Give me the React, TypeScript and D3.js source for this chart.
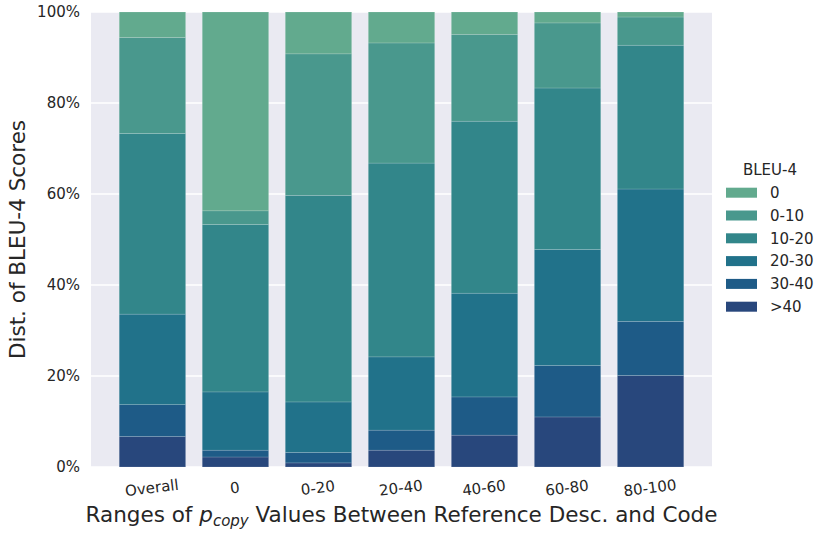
import { useEffect, useRef } from 'react';
import * as d3 from 'd3';

// categories (x axis) and BLEU-4 buckets (stack order, bottom -> top)
const categories = ['Overall', '0', '0-20', '20-40', '40-60', '60-80', '80-100'];
const buckets = ['>40', '30-40', '20-30', '10-20', '0-10', '0'];

// share (%) of each bucket per category
const gt40 = [6.7, 2.2, 0.9, 3.7, 7.0, 11.0, 20.1];
const b30_40 = [7.0, 1.5, 2.3, 4.4, 8.4, 11.3, 11.9];
const b20_30 = [19.9, 12.8, 11.1, 16.1, 22.8, 25.5, 29.1];
const b10_20 = [39.7, 36.8, 45.4, 42.6, 37.8, 35.5, 31.6];
const b0_10 = [21.1, 3.0, 31.1, 26.4, 19.1, 14.3, 6.2];
const b0 = [5.6, 43.7, 9.2, 6.8, 4.9, 2.4, 1.1];

const yTicks = [0, 20, 40, 60, 80, 100];

const colors: Record<string, string> = {
  '0': '#62aa8e',
  '0-10': '#49988d',
  '10-20': '#32868a',
  '20-30': '#21728a',
  '30-40': '#1e5b87',
  '>40': '#28477c',
};

const legendOrder = ['0', '0-10', '10-20', '20-30', '30-40', '>40'];

export default function App() {
  const svgRef = useRef<SVGSVGElement | null>(null);

  const W = 830;
  const H = 536;
  const margin = { top: 12, right: 118, bottom: 69, left: 91 };
  const width = W - margin.left - margin.right;
  const height = H - margin.top - margin.bottom;

  useEffect(() => {
    const svg = d3.select(svgRef.current);
    svg.selectAll('*').remove();

    const font = 'DejaVu Sans, sans-serif';
    const textColor = '#262626';

    const rows = categories.map((c, i) => {
      const r: Record<string, number | string> = { cat: c, idx: i };
      const vals = [gt40[i], b30_40[i], b20_30[i], b10_20[i], b0_10[i], b0[i]];
      const total = d3.sum(vals);
      buckets.forEach((b, j) => (r[b] = (vals[j] / total) * 100));
      return r;
    });

    const stack = d3.stack<Record<string, number | string>>().keys(buckets)(rows);

    const x = d3.scaleLinear().domain([-0.74, 6.74]).range([0, width]);
    const barW = x(0.8) - x(0);
    const y = d3.scaleLinear().domain([0, 100]).range([height, 0]);

    const g = svg
      .append('g')
      .attr('transform', `translate(${margin.left},${margin.top})`);

    // background
    g.append('rect')
      .attr('width', width)
      .attr('height', height)
      .attr('fill', '#eaeaf2');

    // gridlines
    g.selectAll('.grid')
      .data(yTicks)
      .enter()
      .append('line')
      .attr('x1', 0)
      .attr('x2', width)
      .attr('y1', (d) => y(d))
      .attr('y2', (d) => y(d))
      .attr('stroke', '#fff')
      .attr('stroke-width', 1.3);

    // stacked bars
    stack.forEach((layer) => {
      g.selectAll(`.bar-${layer.index}`)
        .data(layer)
        .enter()
        .append('rect')
        .attr('x', (_, i) => x(i) - barW / 2)
        .attr('width', barW)
        .attr('y', (d) => y(d[1]))
        .attr('height', (d) => y(d[0]) - y(d[1]))
        .attr('fill', colors[layer.key])
        .attr('stroke', 'rgba(255,255,255,0.25)')
        .attr('stroke-width', 0.6);
    });

    // y tick labels
    g.selectAll('.ytick')
      .data(yTicks)
      .enter()
      .append('text')
      .attr('x', -11)
      .attr('y', (d) => y(d))
      .attr('dy', '0.35em')
      .attr('text-anchor', 'end')
      .attr('font-family', font)
      .attr('font-size', 15)
      .attr('fill', textColor)
      .text((d) => `${d}%`);

    // x tick labels (slightly rotated)
    g.selectAll('.xtick')
      .data(categories)
      .enter()
      .append('text')
      .attr('transform', (_, i) => `translate(${x(i)},${height + 26}) rotate(-7)`)
      .attr('text-anchor', 'middle')
      .attr('font-family', font)
      .attr('font-size', 15)
      .attr('fill', textColor)
      .text((d) => d);

    // x axis title
    const xt = g
      .append('text')
      .attr('x', width / 2)
      .attr('y', height + 55)
      .attr('text-anchor', 'middle')
      .attr('font-family', font)
      .attr('font-size', 21.5)
      .attr('fill', textColor);
    xt.append('tspan').text('Ranges of ');
    xt.append('tspan').attr('font-style', 'italic').text('p');
    xt.append('tspan')
      .attr('font-style', 'italic')
      .attr('font-size', 15)
      .attr('dy', 4)
      .text('copy');
    xt.append('tspan').attr('dy', -4).text(' Values Between Reference Desc. and Code');

    // y axis title
    g.append('text')
      .attr('transform', `translate(${-66},${height / 2}) rotate(-90)`)
      .attr('text-anchor', 'middle')
      .attr('font-family', font)
      .attr('font-size', 21.5)
      .attr('fill', textColor)
      .text('Dist. of BLEU-4 Scores');

    // legend
    const lg = svg.append('g').attr('transform', `translate(726,170)`);
    lg.append('text')
      .attr('x', 44)
      .attr('y', 0)
      .attr('dy', '0.35em')
      .attr('text-anchor', 'middle')
      .attr('font-family', font)
      .attr('font-size', 15)
      .attr('fill', textColor)
      .text('BLEU-4');

    const items = lg
      .selectAll('.item')
      .data(legendOrder)
      .enter()
      .append('g')
      .attr('transform', (_, i) => `translate(0,${22.7 + i * 22.8})`);

    items
      .append('rect')
      .attr('x', 0)
      .attr('y', -5)
      .attr('width', 31)
      .attr('height', 10)
      .attr('fill', (d) => colors[d]);

    items
      .append('text')
      .attr('x', 44)
      .attr('y', 0)
      .attr('dy', '0.35em')
      .attr('font-family', font)
      .attr('font-size', 15)
      .attr('fill', textColor)
      .text((d) => d);
  }, []);

  return (
    <svg
      ref={svgRef}
      width={W}
      height={H}
      style={{ position: 'absolute', left: 0, top: 0 }}
    ></svg>
  );
}
